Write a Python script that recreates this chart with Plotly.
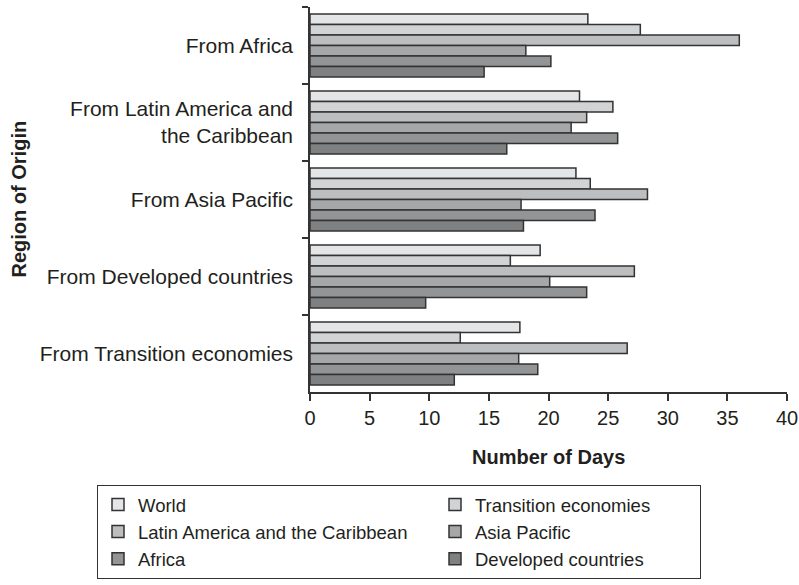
import plotly.graph_objects as go

regions = [
    "From Africa",
    "From Latin America and<br>the Caribbean",
    "From Asia Pacific",
    "From Developed countries",
    "From Transition economies",
]

series_names = [
    "World",
    "Transition economies",
    "Latin America and the Caribbean",
    "Asia Pacific",
    "Africa",
    "Developed countries",
]

world = [23.3, 22.6, 22.3, 19.3, 17.6]
transition = [27.7, 25.4, 23.5, 16.8, 12.6]
latin_america = [36.0, 23.2, 28.3, 27.2, 26.6]
asia_pacific = [18.1, 21.9, 17.7, 20.1, 17.5]
africa = [20.2, 25.8, 23.9, 23.2, 19.1]
developed = [14.6, 16.5, 17.9, 9.7, 12.1]

series_values = [world, transition, latin_america, asia_pacific, africa, developed]
colors = ["#e4e5e7", "#d2d3d5", "#bdbec0", "#a6a7a9", "#939496", "#7f8082"]

x_ticks = [0, 5, 10, 15, 20, 25, 30, 35, 40]

TEXT = "#231f20"
LINE = "#333333"
FONT = "Liberation Sans, Arial, Helvetica, sans-serif"

W, H = 799, 585
L, R, T, B = 310, 12, 7, 193
plot_w = W - L - R
plot_h = H - T - B

fig = go.Figure()
for i, (name, vals, col) in enumerate(zip(series_names, series_values, colors)):
    fig.add_trace(go.Bar(
        x=vals, y=regions, name=name, orientation="h",
        marker=dict(color=col, line=dict(color=LINE, width=1.5)),
        legendwidth=292 if i % 2 == 0 else 220,
    ))

fig.update_layout(
    width=W, height=H,
    margin=dict(l=L, r=R, t=T, b=B, autoexpand=False),
    paper_bgcolor="white", plot_bgcolor="white",
    barmode="group", bargap=0.18, bargroupgap=0,
    font=dict(family=FONT, color=TEXT),
    showlegend=True,
    legend=dict(
        orientation="h", x=(97 - L) / plot_w, y=(T + plot_h - 485) / plot_h,
        xanchor="left", yanchor="top",
        bordercolor=LINE, borderwidth=1, bgcolor="white",
        font=dict(size=18.5, color=TEXT, family=FONT),
        traceorder="normal",
    ),
    xaxis=dict(
        range=[0, 40], tickvals=x_ticks, ticktext=[str(v) for v in x_ticks],
        showgrid=False, zeroline=False, automargin=False,
        showline=True, linecolor=LINE, linewidth=1.5,
        ticks="outside", ticklen=7, tickcolor=LINE, tickwidth=1.5,
        tickfont=dict(size=20, color=TEXT), fixedrange=True,
    ),
    yaxis=dict(
        autorange="reversed", type="category", automargin=False,
        showgrid=False, zeroline=False,
        showline=True, linecolor=LINE, linewidth=1.5,
        ticks="outside", tickson="boundaries", ticklen=6, tickcolor=LINE, tickwidth=1.5,
        tickfont=dict(size=21, color=TEXT), ticklabelstandoff=11,
    ),
    annotations=[
        dict(text="<b>Number of Days</b>", xref="paper", yref="paper",
             x=0.5, y=(T + plot_h - 457) / plot_h, xanchor="center", yanchor="middle",
             showarrow=False, font=dict(size=20, color=TEXT)),
        dict(text="<b>Region of Origin</b>", xref="paper", yref="paper",
             x=(18 - L) / plot_w, y=0.5, xanchor="center", yanchor="middle",
             textangle=-90, showarrow=False, font=dict(size=20, color=TEXT)),
    ],
)

# Remove the browser's default 8px body margin so the 799x585 figure fills the window.
fig.write_html(
    "out.html",
    config={"displayModeBar": False},
    post_script="document.body.style.margin='0';"
                "document.documentElement.style.overflow='hidden';",
)
